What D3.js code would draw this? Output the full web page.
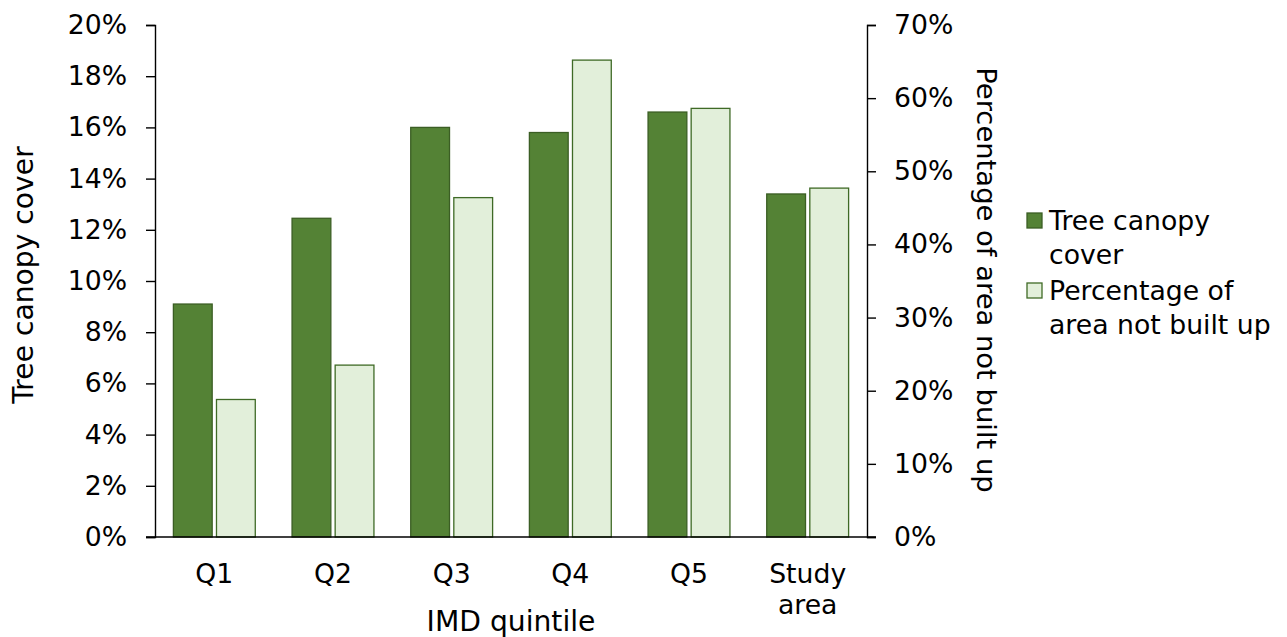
<!DOCTYPE html>
<html>
<head>
<meta charset="utf-8">
<script src="https://cdn.jsdelivr.net/npm/d3@7"></script>
<style>
  html, body { margin: 0; padding: 0; background: #fff; }
  svg text { font-family: "DejaVu Sans", Verdana, sans-serif; fill: #000; }
</style>
</head>
<body>
<svg id="chart" width="1287" height="637"></svg>
<script>
// IMD quintiles plus the whole study area
const categories = ["Q1", "Q2", "Q3", "Q4", "Q5", "Study area"];
// Tree canopy cover (%), left axis
const canopyCover = [9.1, 12.45, 16.0, 15.8, 16.6, 13.4];
// Percentage of area not built up (%), right axis
const notBuiltUp = [18.8, 23.5, 46.4, 65.2, 58.6, 47.7];
const leftTicks = [0, 2, 4, 6, 8, 10, 12, 14, 16, 18, 20];
const rightTicks = [0, 10, 20, 30, 40, 50, 60, 70];
const seriesNames = ["Tree canopy cover", "Percentage of area not built up"];

const FONT = 26.7;
const TITLE_FONT = 28.2;
const svg = d3.select("#chart");
const plotLeft = 155, plotRight = 867, plotTop = 25, plotBottom = 537;

const x = d3.scaleBand().domain(categories).range([plotLeft, plotRight])
  .paddingInner(0.31).paddingOuter(0.155);
const xSub = d3.scaleBand().domain(["canopy", "notBuilt"]).range([0, x.bandwidth()])
  .paddingInner(0.1);
const yL = d3.scaleLinear().domain([0, 20]).range([plotBottom, plotTop]);
const yR = d3.scaleLinear().domain([0, 70]).range([plotBottom, plotTop]);

const colors = {
  canopy: { fill: "#548235", stroke: "#3b5e24" },
  notBuilt: { fill: "#e2efda", stroke: "#3f6a26" }
};

// Bars
const g = svg.append("g");
categories.forEach((c, i) => {
  g.append("rect")
    .attr("x", x(c) + xSub("canopy"))
    .attr("y", yL(canopyCover[i]))
    .attr("width", xSub.bandwidth())
    .attr("height", yL(0) - yL(canopyCover[i]))
    .attr("fill", colors.canopy.fill)
    .attr("stroke", colors.canopy.stroke)
    .attr("stroke-width", 1.3);
  g.append("rect")
    .attr("x", x(c) + xSub("notBuilt"))
    .attr("y", yR(notBuiltUp[i]))
    .attr("width", xSub.bandwidth())
    .attr("height", yR(0) - yR(notBuiltUp[i]))
    .attr("fill", colors.notBuilt.fill)
    .attr("stroke", colors.notBuilt.stroke)
    .attr("stroke-width", 1.3);
});

// Left axis
const axL = svg.append("g").attr("transform", `translate(${plotLeft},0)`)
  .call(d3.axisLeft(yL).tickValues(leftTicks).tickFormat(d => d + "%")
    .tickSize(9).tickSizeOuter(9).tickPadding(19));
// Right axis
const axR = svg.append("g").attr("transform", `translate(${plotRight},0)`)
  .call(d3.axisRight(yR).tickValues(rightTicks).tickFormat(d => d + "%")
    .tickSize(9).tickSizeOuter(9).tickPadding(18));
[axL, axR].forEach(a => {
  a.selectAll("path, line").attr("stroke", "#000").attr("stroke-width", 1.4);
  a.selectAll("text").attr("font-size", FONT)
    .style("font-family", '"DejaVu Sans", Verdana, sans-serif').attr("fill", "#000");
});

// Category axis: baseline only
const axX = svg.append("g").attr("transform", `translate(0,${plotBottom})`)
  .call(d3.axisBottom(x).tickSize(0).tickFormat(""));
axX.select("path").attr("stroke", "#000").attr("stroke-width", 1.4)
  .attr("d", `M${plotLeft - 9},0H${plotRight + 9}`);

// Category labels (wrapping "Study area")
categories.forEach(c => {
  const lines = c === "Study area" ? ["Study", "area"] : [c];
  const t = svg.append("text")
    .attr("x", x(c) + x.bandwidth() / 2)
    .attr("y", 583)
    .attr("text-anchor", "middle")
    .attr("font-size", FONT);
  lines.forEach((l, k) => t.append("tspan")
    .attr("x", x(c) + x.bandwidth() / 2)
    .attr("dy", k === 0 ? 0 : 31).text(l));
});

// Axis titles
svg.append("text").attr("x", (plotLeft + plotRight) / 2).attr("y", 631)
  .attr("text-anchor", "middle").attr("font-size", TITLE_FONT).text("IMD quintile");
svg.append("text").attr("transform", "translate(33,275) rotate(-90)")
  .attr("text-anchor", "middle").attr("font-size", TITLE_FONT).text("Tree canopy cover");
svg.append("text").attr("transform", "translate(977,280) rotate(90)")
  .attr("text-anchor", "middle").attr("font-size", 27.4).text("Percentage of area not built up");

// Legend
const legend = svg.append("g");
const legendItems = [
  { key: "canopy", lines: ["Tree canopy", "cover"], y: 230 },
  { key: "notBuilt", lines: ["Percentage of", "area not built up"], y: 300 }
];
legendItems.forEach(it => {
  legend.append("rect")
    .attr("x", 1027).attr("y", it.y - 17)
    .attr("width", 15).attr("height", 15)
    .attr("fill", colors[it.key].fill)
    .attr("stroke", colors[it.key].stroke)
    .attr("stroke-width", 1.3);
  const t = legend.append("text").attr("font-size", FONT).attr("y", it.y);
  it.lines.forEach((l, k) => t.append("tspan").attr("x", 1049)
    .attr("dy", k === 0 ? 0 : 34).text(l));
});
</script>
</body>
</html>
